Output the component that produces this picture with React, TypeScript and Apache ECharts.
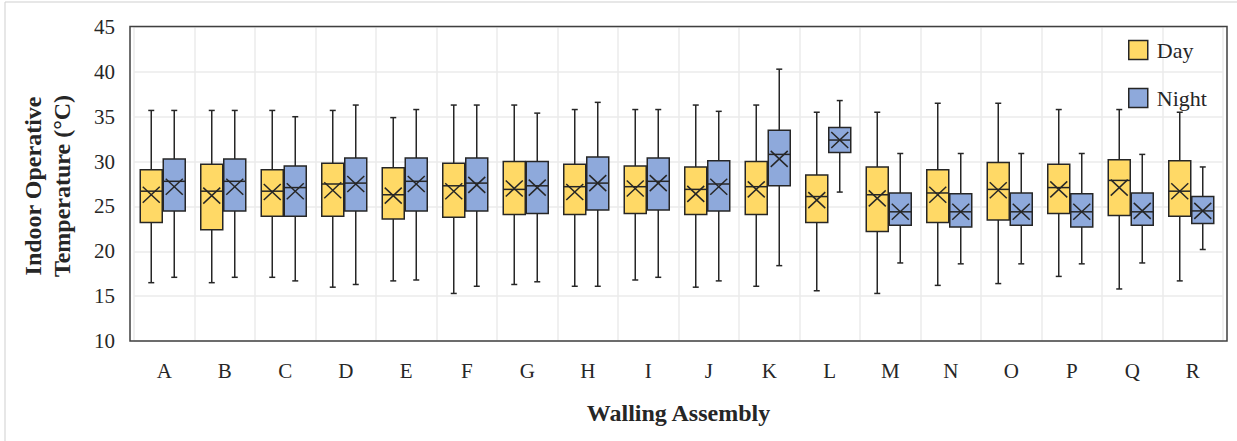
import React, { useEffect, useRef } from "react";
import * as echarts from "echarts";

const categories = ["A", "B", "C", "D", "E", "F", "G", "H", "I", "J", "K", "L", "M", "N", "O", "P", "Q", "R"];

// [min, q1, median, q3, max]
const dayBoxes = [
  [16.5, 23.2, 26.7, 29.1, 35.7],
  [16.5, 22.4, 26.7, 29.7, 35.7],
  [17.1, 23.9, 26.7, 29.1, 35.7],
  [16.0, 23.9, 27.5, 29.8, 35.7],
  [16.7, 23.6, 26.3, 29.3, 34.9],
  [15.3, 23.8, 27.3, 29.8, 36.3],
  [16.3, 24.1, 26.9, 30.0, 36.3],
  [16.1, 24.1, 27.2, 29.7, 35.8],
  [16.8, 24.2, 27.2, 29.5, 35.8],
  [16.0, 24.1, 26.9, 29.4, 36.3],
  [16.1, 24.1, 27.2, 30.0, 36.3],
  [15.6, 23.2, 26.1, 28.5, 35.5],
  [15.3, 22.2, 26.3, 29.4, 35.5],
  [16.2, 23.2, 26.5, 29.1, 36.5],
  [16.4, 23.5, 26.9, 29.9, 36.5],
  [17.2, 24.2, 27.1, 29.7, 35.8],
  [15.8, 24.0, 27.9, 30.2, 35.8],
  [16.7, 23.9, 26.7, 30.1, 35.5],
];
const dayMeans = [26.3, 26.2, 26.6, 26.8, 26.2, 26.7, 27.0, 26.6, 27.0, 26.4, 26.9, 25.7, 25.9, 26.3, 26.8, 26.9, 27.1, 26.7];

const nightBoxes = [
  [17.1, 24.5, 27.8, 30.3, 35.7],
  [17.1, 24.5, 27.8, 30.3, 35.7],
  [16.7, 23.9, 27.1, 29.5, 35.0],
  [16.3, 24.5, 27.6, 30.4, 36.3],
  [16.8, 24.5, 27.8, 30.4, 35.8],
  [16.1, 24.5, 27.6, 30.4, 36.3],
  [16.6, 24.2, 27.3, 30.0, 35.4],
  [16.1, 24.6, 27.6, 30.5, 36.6],
  [17.1, 24.6, 27.8, 30.4, 35.8],
  [16.7, 24.5, 27.5, 30.1, 35.6],
  [18.4, 27.3, 30.8, 33.5, 40.3],
  [26.6, 31.0, 32.4, 33.8, 36.8],
  [18.7, 22.9, 24.4, 26.5, 30.9],
  [18.6, 22.7, 24.4, 26.4, 30.9],
  [18.6, 22.9, 24.4, 26.5, 30.9],
  [18.6, 22.7, 24.4, 26.4, 30.9],
  [18.7, 22.9, 24.4, 26.5, 30.8],
  [20.2, 23.1, 24.5, 26.1, 29.4],
];
const nightMeans = [27.2, 27.2, 26.7, 27.5, 27.5, 27.4, 27.1, 27.6, 27.6, 27.2, 30.3, 32.4, 24.4, 24.4, 24.4, 24.4, 24.5, 24.5];

const yMin = 10;
const yMax = 45;
const yInterval = 5;

const DAY_COLOR = "#FFD966";
const NIGHT_COLOR = "#8EA9DB";
const EDGE = "#262626";
const FONT = '"Liberation Serif", "Times New Roman", serif';

function buildData(boxes: number[][], means: number[]) {
  return boxes.map((b, i) => [i, b[0], b[1], b[2], b[3], b[4], means[i]]);
}

function makeRender(offsetFrac: number, widthFrac: number) {
  return (params: any, api: any) => {
    const i = api.value(0);
    const band = api.size([1, 0])[0];
    const xc = api.coord([i, api.value(3)])[0] + offsetFrac * band;
    const w = widthFrac * band;
    const y = (k: number) => api.coord([i, api.value(k)])[1];
    const pMin = y(1), pQ1 = y(2), pMed = y(3), pQ3 = y(4), pMax = y(5), pMean = y(6);
    const ls = { stroke: EDGE, lineWidth: 1.5 };
    const cap = 3;
    const xs = 8.5, xv = 8;
    return {
      type: "group",
      children: [
        { type: "line", shape: { x1: xc, y1: pMax, x2: xc, y2: pMin }, style: ls },
        { type: "line", shape: { x1: xc - cap, y1: pMax, x2: xc + cap, y2: pMax }, style: ls },
        { type: "line", shape: { x1: xc - cap, y1: pMin, x2: xc + cap, y2: pMin }, style: ls },
        {
          type: "rect",
          shape: { x: xc - w / 2, y: pQ3, width: w, height: pQ1 - pQ3 },
          style: { fill: api.visual("color"), stroke: EDGE, lineWidth: 1.5 },
        },
        { type: "line", shape: { x1: xc - w / 2, y1: pMed, x2: xc + w / 2, y2: pMed }, style: ls },
        { type: "line", shape: { x1: xc - xs, y1: pMean - xv, x2: xc + xs, y2: pMean + xv }, style: ls },
        { type: "line", shape: { x1: xc - xs, y1: pMean + xv, x2: xc + xs, y2: pMean - xv }, style: ls },
      ],
    };
  };
}

export default function App() {
  const ref = useRef<HTMLDivElement>(null);
  useEffect(() => {
    if (!ref.current) return;
    const chart = echarts.init(ref.current, null, { renderer: "svg" });
    const option: any = {
      animation: false,
      backgroundColor: "#ffffff",
      grid: { left: 134, right: 14, top: 27, bottom: 100, containLabel: false },
      legend: {
        orient: "vertical",
        left: 1123,
        top: 34,
        itemWidth: 19,
        itemHeight: 19,
        itemGap: 26,
        selectedMode: false,
        textStyle: { fontFamily: FONT, fontSize: 22, color: EDGE, padding: [0, 0, 0, 4] },
        data: [
          { name: "Day", icon: "rect", itemStyle: { color: DAY_COLOR, borderColor: EDGE, borderWidth: 1.5 } },
          { name: "Night", icon: "rect", itemStyle: { color: NIGHT_COLOR, borderColor: EDGE, borderWidth: 1.5 } },
        ],
      },
      xAxis: {
        type: "category",
        data: categories,
        boundaryGap: true,
        axisLine: { show: false },
        axisTick: { show: false },
        axisLabel: { fontFamily: FONT, fontSize: 21, color: EDGE, margin: 19, interval: 0 },
        splitLine: { show: true, interval: 0, lineStyle: { color: "#ebebeb", width: 1.5 } },
        name: "Walling Assembly",
        nameLocation: "middle",
        nameGap: 60,
        nameTextStyle: { fontFamily: FONT, fontSize: 24, fontWeight: "bold", color: EDGE },
      },
      yAxis: {
        type: "value",
        min: yMin,
        max: yMax,
        interval: yInterval,
        axisLine: { show: false },
        axisTick: { show: false },
        axisLabel: { fontFamily: FONT, fontSize: 21, color: EDGE, margin: 19 },
        splitLine: { show: true, lineStyle: { color: "#ebebeb", width: 1.5 } },
      },
      graphic: [
        {
          type: "rect",
          z: 100,
          shape: { x: 5, y: 2, width: 1300, height: 500 },
          style: { fill: "none", stroke: "#cfcfcf", lineWidth: 1 },
        },
        {
          type: "rect",
          z: 100,
          shape: { x: 130, y: 26.5, width: 1097, height: 314.5 },
          style: { fill: "none", stroke: "#404040", lineWidth: 1.5 },
        },
        {
          type: "text",
          z: 100,
          x: 47,
          y: 186,
          rotation: Math.PI / 2,
          style: {
            text: "Indoor Operative\nTemperature (°C)",
            align: "center",
            verticalAlign: "middle",
            fontFamily: FONT,
            fontSize: 24,
            fontWeight: "bold",
            lineHeight: 29,
            fill: EDGE,
          },
        },
      ],
      series: [
        {
          name: "Day",
          type: "custom",
          itemStyle: { color: DAY_COLOR },
          encode: { x: 0, y: [1, 2, 3, 4, 5, 6] },
          renderItem: makeRender(-13 / 60.5, 22 / 60.5),
          data: buildData(dayBoxes, dayMeans),
          z: 5,
        },
        {
          name: "Night",
          type: "custom",
          itemStyle: { color: NIGHT_COLOR },
          encode: { x: 0, y: [1, 2, 3, 4, 5, 6] },
          renderItem: makeRender(10 / 60.5, 22 / 60.5),
          data: buildData(nightBoxes, nightMeans),
          z: 5,
        },
      ],
    };
    chart.setOption(option);
    return () => chart.dispose();
  }, []);
  return (
    <div
      ref={ref}
      style={{ position: "absolute", left: 0, top: 0, width: 1237, height: 441, background: "#fff" }}
    />
  );
}
